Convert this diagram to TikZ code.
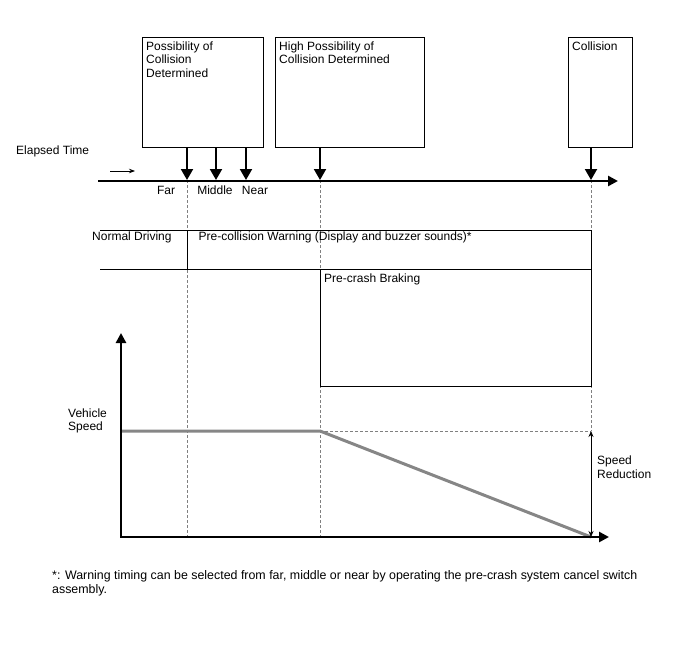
\documentclass[tikz,border=0pt]{standalone}
\usepackage{fontspec}
\setmainfont{Liberation Sans}
\usetikzlibrary{arrows.meta,positioning}

\begin{document}
\begin{tikzpicture}[x=1pt, y=-1pt, font=\fontsize{12}{13.5}\selectfont,
    box/.style={draw, line width=0.8pt, anchor=north west, inner sep=0pt},
    boxtext/.style={anchor=north west, align=left, inner sep=0pt, xshift=4pt, yshift=-4.5pt},
    lbl/.style={anchor=west, align=left, inner sep=0pt},
    guide/.style={gray, line width=0.6pt, dash pattern=on 3pt off 2pt},
    drop/.style={line width=2pt, -{Triangle[width=12pt,length=11pt]}},
    axis/.style={line width=2.5pt, line join=miter, -{Triangle[width=10pt,length=10pt]}},
    speed/.style={gray!95, line width=3pt}]
    \useasboundingbox (0,0) rectangle (688,658);

    % Event boxes
    \node[box, minimum width=121pt, minimum height=110pt] (poss) at (142,37) {};
    \node[boxtext] (posstext) at (poss.north west) {Possibility of\\Collision\\Determined};
    \node[box, minimum width=149pt, minimum height=110pt] (highposs) at (275,37) {};
    \node[boxtext] (highposstext) at (highposs.north west) {High Possibility of\\Collision Determined};
    \node[box, minimum width=64pt, minimum height=110pt] (collision) at (568,37) {};
    \node[boxtext] (collisiontext) at (collision.north west) {Collision};

    % Timeline
    \node[lbl] (elapsed) at (16,151) {Elapsed Time};
    \coordinate (dirstart) at (110,171);
    \coordinate (dirend) at (135,171);
    \draw[line width=0.8pt, -{Stealth[length=6pt,width=4.5pt]}] (dirstart) -- (dirend);
    \coordinate (tstart) at (98,181);
    \coordinate (tend) at (618,181);

    % Points in time
    \foreach \x/\name in {187/far, 216/middle, 246/near, 320/high, 591/crash}
        \coordinate (\name) at (\x,180);
    \foreach \x/\name/\txt in {166/farlbl/Far, 215/middlelbl/Middle, 255/nearlbl/Near}
        \node[inner sep=0pt] (\name) at (\x,190) {\txt};

    % Guide lines
    \coordinate (farbot) at (187,537);
    \coordinate (highbot) at (320,537);
    \coordinate (crashlvl) at (591,431);
    \draw[guide] (far) -- (farbot);
    \draw[guide] (high) -- (highbot);
    \draw[guide] (crash) -- (crashlvl);

    \draw[axis] (tstart) -- (tend);
    \foreach \name in {far, middle, near}
        \draw[drop] (poss.south -| \name) -- (\name);
    \draw[drop] (highposs.south -| high) -- (high);
    \draw[drop] (collision.south -| crash) -- (crash);

    % Warning row
    \draw[line width=0.8pt] (100,230) -- (591,230) -- (591,269) -- (100,269);
    \draw[line width=0.8pt] (187.5,230) -- (187.5,269);
    \node[lbl] (normal) at (92,237.5) {Normal Driving};
    \node[lbl] (warning) at (198.5,237.5) {Pre-collision Warning (Display and buzzer sounds)*};
    \node[box, fill=white, minimum width=271pt, minimum height=117pt] (braking) at (320,269) {};
    \node[boxtext] (brakingtext) at (braking.north west) {Pre-crash Braking};

    % Vehicle speed chart
    \coordinate (origin) at (121,537);
    \coordinate (ytop) at (121,333);
    \coordinate (xend) at (609,537);
    \coordinate (vstart) at (121,431);
    \coordinate (vbrake) at (320,431);
    \coordinate (vstop) at (591,537);
    \draw[guide] (vbrake) -- (crashlvl);
    \draw[speed] (vstart) -- (vbrake) -- (vstop);
    \draw[axis, {Triangle[width=10pt,length=10pt]}-{Triangle[width=10pt,length=10pt]}] (ytop) -- (origin) -- (xend);
    \draw[line width=0.8pt, {Stealth[length=6pt,width=5pt]}-{Stealth[length=6pt,width=5pt]}] (crashlvl) -- (vstop);
    \node[lbl] (vspeed) at (68,421) {Vehicle\\Speed};
    \node[lbl] (reduction) at (597,467) {Speed\\Reduction};

    % Footnote
    \node[lbl, font=\fontsize{12.4}{13.5}\selectfont] (note) at (52,583.5) {*: Warning timing can be selected from far, middle or near by operating the pre-crash system cancel switch\\assembly.};
\end{tikzpicture}
\end{document}
